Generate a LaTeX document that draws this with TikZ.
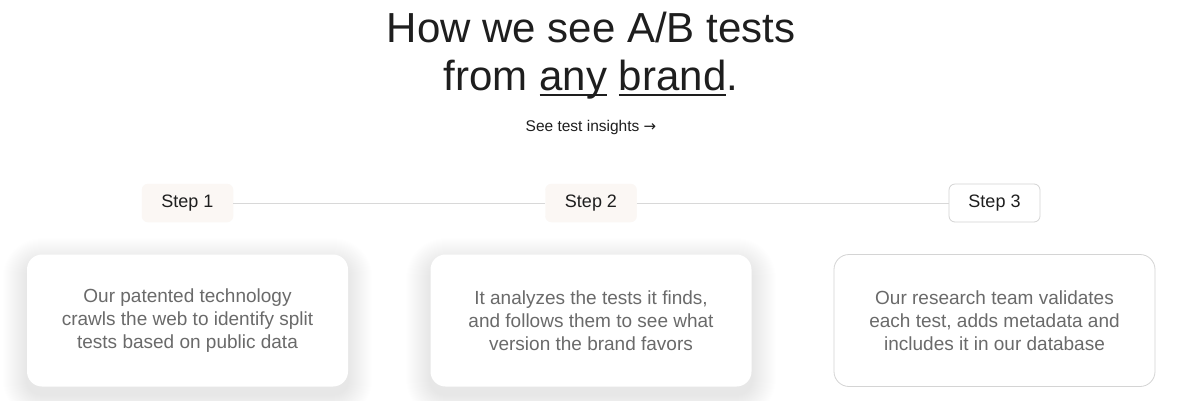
\documentclass[tikz,border=0pt]{standalone}
\usepackage{fontspec}
\setmainfont{Liberation Sans}
\newfontfamily\symfont{DejaVu Sans}
\usetikzlibrary{calc}
\pgfdeclarelayer{shade}
\pgfsetlayers{shade,main}
\definecolor{ink}{HTML}{1E1E1E}
\definecolor{bodygray}{HTML}{6A6A6A}
\definecolor{stepfill}{HTML}{FBF7F4}
\definecolor{linegray}{HTML}{D8D8D8}
\definecolor{bordergray}{HTML}{D4D4D4}
\newcommand\myul[1]{\setbox0\hbox{#1}\rlap{\rule[-5.5pt]{\wd0}{1.6pt}}\box0\relax}
\tikzset{
  stepbox/.style={rounded corners=6pt, minimum width=91pt, minimum height=38pt, inner sep=0pt, font=\fontsize{18pt}{21pt}\selectfont, text=ink},
  stepsoft/.style={stepbox, fill=stepfill, draw=stepfill},
  stepline/.style={stepbox, fill=white, draw=bordergray, line width=0.8pt},
  card/.style={rounded corners=15pt, minimum width=321pt, minimum height=132pt, inner sep=0pt, align=center, text=bodygray, font=\fontsize{19pt}{23pt}\selectfont},
  cardshadow/.style={card, fill=white},
  cardline/.style={card, fill=white, draw=bordergray, line width=0.8pt},
  softshade/.style={fill=black, opacity=0.0055},
  link/.style={draw=linegray, line width=1pt}
}
\begin{document}
\begin{tikzpicture}[x=1pt,y=1pt]
\begin{pgfonlayer}{shade}
\fill[white] (0,0) rectangle (1200,-400);
\end{pgfonlayer}
\useasboundingbox (0,0) rectangle (1200,-400);
\node[text=ink, font=\fontsize{42pt}{48pt}\selectfont, anchor=base] (title1) at (591,-42) {How we see A/B tests};
\node[text=ink, font=\fontsize{42pt}{48pt}\selectfont, anchor=base] (title2) at (591,-90) {from \myul{any} \myul{brand}.};
\node[text=ink, font=\fontsize{15.5pt}{18pt}\selectfont, anchor=base] (insights) at (591,-131) {See test insights {\symfont\fontsize{15pt}{18pt}\selectfont →}};
\node[stepsoft] (s1) at (187.5,-203) {Step 1};
\node[stepsoft] (s2) at (591,-203) {Step 2};
\node[stepline] (s3) at (994.5,-203) {Step 3};
\draw[link] (s1.east) -- (s2.west);
\draw[link] (s2.east) -- (s3.west);
\node[cardshadow] (c1) at (187.5,-320.5) {Our patented technology\\crawls the web to identify split\\tests based on public data};
\node[cardshadow] (c2) at (591,-320.5) {It analyzes the tests it finds,\\and follows them to see what\\version the brand favors};
\node[cardline] (c3) at (994.5,-320.5) {Our research team validates\\each test, adds metadata and\\includes it in our database};
\begin{pgfonlayer}{shade}
  \foreach \c in {c1,c2}{
    \foreach \i in {1,...,24}{
      \fill[softshade, rounded corners=15pt+\i pt]
        ($(\c.south west)+(-\i,-\i-8)$) rectangle ($(\c.north east)+(\i,\i-8)$);
    }
  }
\end{pgfonlayer}
\end{tikzpicture}
\end{document}
